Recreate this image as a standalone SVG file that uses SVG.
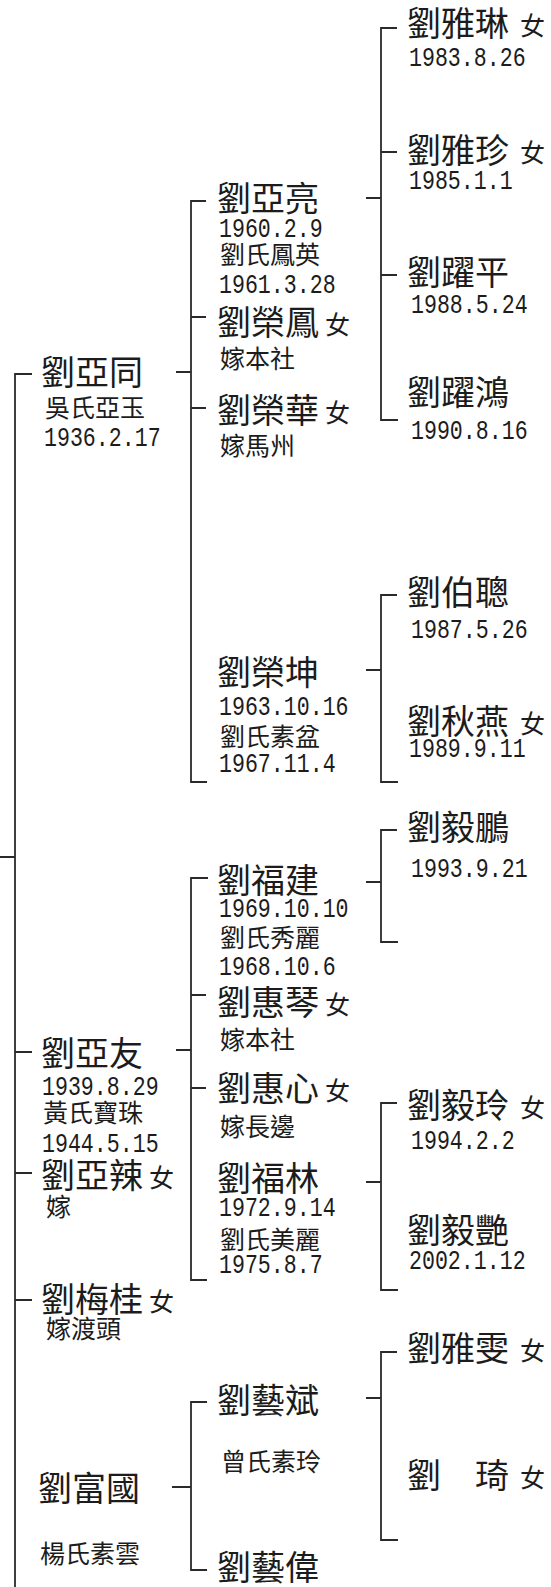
<svg xmlns="http://www.w3.org/2000/svg" width="551" height="1587" viewBox="0 0 551 1587">
<style>
text{fill:#1c1c1c;font-family:"Noto Sans CJK TC","Noto Sans CJK SC",sans-serif}
.n{font-size:34px}
.s{font-size:25px}
.f{font-size:25px}
.d{font-family:"Liberation Mono",monospace;font-size:27px}
.c{fill:none;stroke:#2a2a2a;stroke-width:1.8}
</style>
<rect width="551" height="1587" fill="#ffffff"/>
<g id="connectors">
<path class="c" d="M32,374 H15 V1587"/>
<path class="c" d="M0,857 H15 M15,1052 H32 M15,1173 H32 M15,1300 H32"/>
<path class="c" d="M176,372 H191 M176,1050 H191 M172,1487 H191"/>
<path class="c" d="M206,201 H191 V782 H207 M191,317 H206 M191,408 H206"/>
<path class="c" d="M208,878 H191 V1280 H207 M191,995 H206 M191,1088 H206"/>
<path class="c" d="M207,1402 H191 V1570 H207"/>
<path class="c" d="M366,198 H381 M366,670 H381 M366,882 H381 M366,1182 H381 M366,1398 H381"/>
<path class="c" d="M397,28 H381 V420 H398 M381,152 H397 M381,275 H397"/>
<path class="c" d="M397,595 H381 V782 H398"/>
<path class="c" d="M397,830 H381 V942 H398"/>
<path class="c" d="M397,1103 H381 V1290 H398"/>
<path class="c" d="M397,1352 H381 V1540 H398"/>
</g>
<g id="n-yalin"><text class="n" x="407" y="36">劉雅琳</text><text class="f" x="520" y="35">女</text><text class="d" transform="translate(409,66) scale(0.8,1)">1983.8.26</text></g>
<g id="n-yazhen"><text class="n" x="407" y="163">劉雅珍</text><text class="f" x="520" y="162">女</text><text class="d" transform="translate(409,189) scale(0.8,1)">1985.1.1</text></g>
<g id="n-yueping"><text class="n" x="407" y="285">劉躍平</text><text class="d" transform="translate(411,313) scale(0.8,1)">1988.5.24</text></g>
<g id="n-yuehong"><text class="n" x="407" y="405">劉躍鴻</text><text class="d" transform="translate(411,439) scale(0.8,1)">1990.8.16</text></g>
<g id="n-bocong"><text class="n" x="407" y="605">劉伯聰</text><text class="d" transform="translate(411,638) scale(0.8,1)">1987.5.26</text></g>
<g id="n-qiuyan"><text class="n" x="407" y="734">劉秋燕</text><text class="f" x="520" y="733">女</text><text class="d" transform="translate(409,757) scale(0.8,1)">1989.9.11</text></g>
<g id="n-yipeng"><text class="n" x="407" y="840">劉毅鵬</text><text class="d" transform="translate(411,877) scale(0.8,1)">1993.9.21</text></g>
<g id="n-yiling"><text class="n" x="407" y="1118">劉毅玲</text><text class="f" x="520" y="1117">女</text><text class="d" transform="translate(411,1149) scale(0.8,1)">1994.2.2</text></g>
<g id="n-yiyan"><text class="n" x="407" y="1243">劉毅艷</text><text class="d" transform="translate(409,1269) scale(0.8,1)">2002.1.12</text></g>
<g id="n-yawen"><text class="n" x="407" y="1361">劉雅雯</text><text class="f" x="520" y="1360">女</text></g>
<g id="n-qi"><text class="n" x="407" y="1488">劉　琦</text><text class="f" x="520" y="1487">女</text></g>
<g id="n-yaliang"><text class="n" x="217" y="211">劉亞亮</text><text class="d" transform="translate(219,237) scale(0.8,1)">1960.2.9</text><text class="s" x="220" y="264">劉氏鳳英</text><text class="d" transform="translate(219,293) scale(0.8,1)">1961.3.28</text></g>
<g id="n-rongfeng"><text class="n" x="217" y="335">劉榮鳳</text><text class="f" x="325" y="334">女</text><text class="s" x="220" y="368">嫁本社</text></g>
<g id="n-ronghua"><text class="n" x="217" y="423">劉榮華</text><text class="f" x="325" y="422">女</text><text class="s" x="220" y="455">嫁馬州</text></g>
<g id="n-rongkun"><text class="n" x="217" y="685">劉榮坤</text><text class="d" transform="translate(219,715) scale(0.8,1)">1963.10.16</text><text class="s" x="220" y="746">劉氏素盆</text><text class="d" transform="translate(219,772) scale(0.8,1)">1967.11.4</text></g>
<g id="n-fujian"><text class="n" x="217" y="893">劉福建</text><text class="d" transform="translate(219,917) scale(0.8,1)">1969.10.10</text><text class="s" x="220" y="947">劉氏秀麗</text><text class="d" transform="translate(219,975) scale(0.8,1)">1968.10.6</text></g>
<g id="n-huiqin"><text class="n" x="217" y="1015">劉惠琴</text><text class="f" x="325" y="1014">女</text><text class="s" x="220" y="1049">嫁本社</text></g>
<g id="n-huixin"><text class="n" x="217" y="1101">劉惠心</text><text class="f" x="325" y="1100">女</text><text class="s" x="220" y="1136">嫁長邊</text></g>
<g id="n-fulin"><text class="n" x="217" y="1191">劉福林</text><text class="d" transform="translate(219,1216) scale(0.8,1)">1972.9.14</text><text class="s" x="220" y="1249">劉氏美麗</text><text class="d" transform="translate(219,1273) scale(0.8,1)">1975.8.7</text></g>
<g id="n-yibin"><text class="n" x="217" y="1413">劉藝斌</text><text class="s" x="221" y="1471">曾氏素玲</text></g>
<g id="n-yiwei"><text class="n" x="217" y="1580">劉藝偉</text></g>
<g id="n-yatong"><text class="n" x="41" y="385">劉亞同</text><text class="s" x="45" y="417">吳氏亞玉</text><text class="d" transform="translate(44,446) scale(0.8,1)">1936.2.17</text></g>
<g id="n-yayou"><text class="n" x="41" y="1066">劉亞友</text><text class="d" transform="translate(42,1095) scale(0.8,1)">1939.8.29</text><text class="s" x="43" y="1122">黃氏寶珠</text><text class="d" transform="translate(42,1152) scale(0.8,1)">1944.5.15</text></g>
<g id="n-yala"><text class="n" x="41" y="1188">劉亞辣</text><text class="f" x="149" y="1187">女</text><text class="s" x="46" y="1216">嫁</text></g>
<g id="n-meigui"><text class="n" x="41" y="1312">劉梅桂</text><text class="f" x="149" y="1311">女</text><text class="s" x="46" y="1338">嫁渡頭</text></g>
<g id="n-fuguo"><text class="n" x="38" y="1501">劉富國</text><text class="s" x="40" y="1563">楊氏素雲</text></g>
</svg>
